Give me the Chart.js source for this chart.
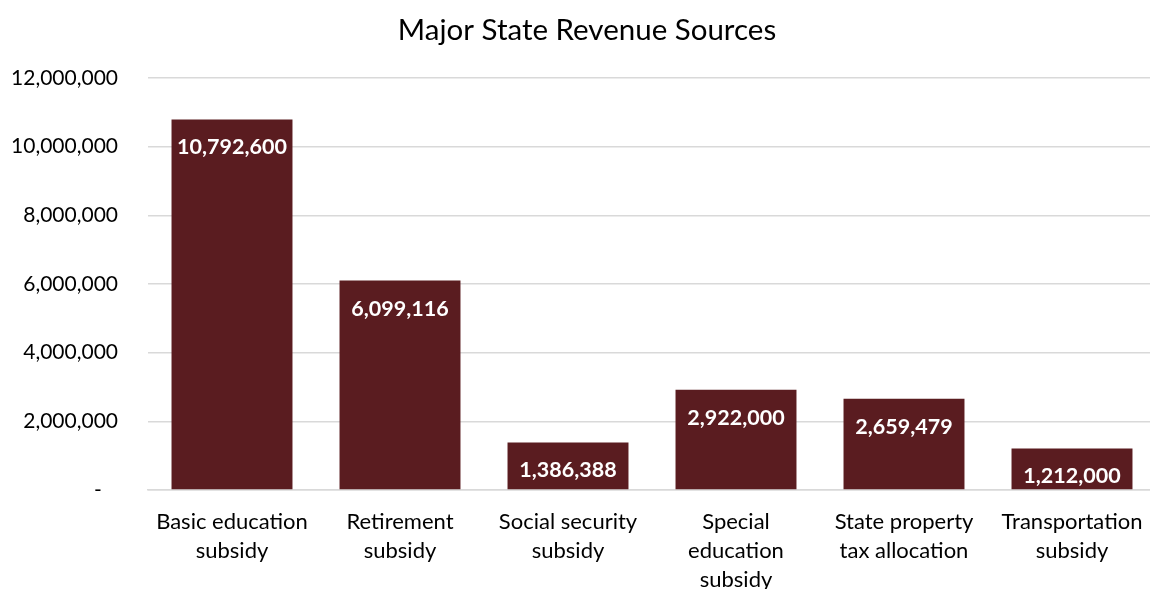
<!DOCTYPE html>
<html>
<head>
<meta charset="utf-8">
<script src="https://cdn.jsdelivr.net/npm/chart.js@4.4.1/dist/chart.umd.min.js"></script>
<style>
  html, body { margin: 0; padding: 0; background: #fff; overflow: hidden; }
  #wrap { width: 1150px; height: 589px; overflow: hidden; }
</style>
</head>
<body>
<div id="wrap"><canvas id="c" width="1156" height="589"></canvas></div>
<script>
const categories = [
  ['Basic education', 'subsidy'],
  ['Retirement', 'subsidy'],
  ['Social security', 'subsidy'],
  ['Special', 'education', 'subsidy'],
  ['State property', 'tax allocation'],
  ['Transportation', 'subsidy']
];
const revenue = [10792600, 6099116, 1386388, 2922000, 2659479, 1212000];
const yTicks = [0, 2000000, 4000000, 6000000, 8000000, 10000000, 12000000];
const chartTitle = 'Major State Revenue Sources';

const FONT = 'Lato, "Open Sans", sans-serif';
const fmt = v => v.toLocaleString('en-US');

// White value labels just inside the top of each bar
const barValueLabels = {
  id: 'barValueLabels',
  afterDatasetsDraw(chart) {
    const ctx = chart.ctx;
    ctx.save();
    ctx.font = 'bold 21.5px ' + FONT;
    ctx.fillStyle = '#ffffff';
    ctx.textAlign = 'center';
    ctx.textBaseline = 'middle';
    chart.getDatasetMeta(0).data.forEach((bar, i) => {
      ctx.fillText(fmt(revenue[i]), bar.x, bar.y + 28);
    });
    ctx.restore();
  }
};

// Chart heading
const heading = {
  id: 'heading',
  afterDraw(chart) {
    const ctx = chart.ctx;
    ctx.save();
    ctx.font = '29.5px ' + FONT;
    ctx.fillStyle = '#000';
    ctx.textAlign = 'center';
    ctx.textBaseline = 'middle';
    ctx.fillText(chartTitle, 587, 30);
    ctx.restore();
  }
};

new Chart(document.getElementById('c'), {
  type: 'bar',
  data: {
    labels: categories,
    datasets: [{
      data: revenue,
      backgroundColor: '#5a1c20',
      categoryPercentage: 0.72,
      barPercentage: 1.0
    }]
  },
  options: {
    responsive: false,
    animation: false,
    layout: { padding: { left: 0, right: 0, top: 78, bottom: -22 } },
    plugins: {
      legend: { display: false },
      tooltip: { enabled: false },
      title: { display: false }
    },
    scales: {
      y: {
        min: 0,
        max: 12000000,
        afterBuildTicks: axis => { axis.ticks = yTicks.map(v => ({ value: v })); },
        afterFit: axis => { axis.width = 148; },
        grid: { color: '#d9d9d9', lineWidth: 1.5, drawTicks: false },
        border: { display: false },
        ticks: {
          color: '#000',
          padding: 30,
          font: { family: FONT, size: 21 },
          callback: v => v === 0 ? '-   ' : fmt(v)
        }
      },
      x: {
        afterFit: axis => { axis.paddingLeft = 0; axis.paddingRight = 0; },
        grid: { display: false, drawTicks: false },
        border: { color: '#d9d9d9', width: 1.5 },
        ticks: {
          color: '#000',
          padding: 17,
          maxRotation: 0,
          autoSkip: false,
          font: { family: FONT, size: 22, lineHeight: '29px' }
        }
      }
    }
  },
  plugins: [barValueLabels, heading]
});
</script>
</body>
</html>
